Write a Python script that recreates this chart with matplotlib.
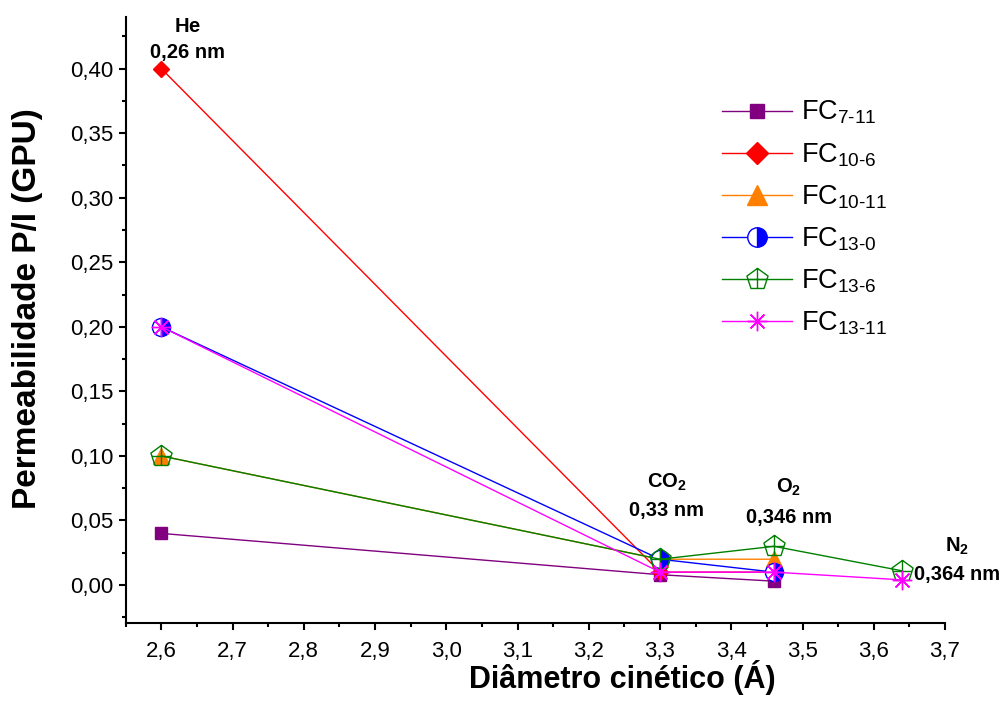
import numpy as np
import matplotlib
matplotlib.use("Agg")
import matplotlib.pyplot as plt
from matplotlib.path import Path
from matplotlib.lines import Line2D
from matplotlib.ticker import MultipleLocator, FuncFormatter

plt.rcParams['font.family'] = ['Liberation Sans', 'DejaVu Sans']
plt.rcParams['mathtext.fontset'] = 'custom'
plt.rcParams['mathtext.rm'] = 'Liberation Sans'
plt.rcParams['mathtext.bf'] = 'Liberation Sans:bold'
plt.rcParams['mathtext.it'] = 'Liberation Sans:italic'

# ---- data ----
labels = [r'FC$_{\text{7-11}}$', r'FC$_{\text{10-6}}$', r'FC$_{\text{10-11}}$',
          r'FC$_{\text{13-0}}$', r'FC$_{\text{13-6}}$', r'FC$_{\text{13-11}}$']
x_fc7_11 = [2.6, 3.3, 3.46]
y_fc7_11 = [0.04, 0.008, 0.003]
x_fc10_6 = [2.6, 3.3, 3.46]
y_fc10_6 = [0.40, 0.01, 0.01]
x_fc10_11 = [2.6, 3.3, 3.46]
y_fc10_11 = [0.10, 0.02, 0.02]
x_fc13_0 = [2.6, 3.3, 3.46]
y_fc13_0 = [0.20, 0.02, 0.01]
x_fc13_6 = [2.6, 3.3, 3.46, 3.64]
y_fc13_6 = [0.10, 0.02, 0.03, 0.011]
x_fc13_11 = [2.6, 3.3, 3.46, 3.64]
y_fc13_11 = [0.20, 0.01, 0.01, 0.004]

gas_names = [r'$\mathbf{He}$', r'$\mathbf{CO}_\mathbf{2}$', r'$\mathbf{O}_\mathbf{2}$', r'$\mathbf{N}_\mathbf{2}$']
gas_sizes = ['0,26 nm', '0,33 nm', '0,346 nm', '0,364 nm']

xs = [x_fc7_11, x_fc10_6, x_fc10_11, x_fc13_0, x_fc13_6, x_fc13_11]
ys = [y_fc7_11, y_fc10_6, y_fc10_11, y_fc13_0, y_fc13_6, y_fc13_11]

# pentagon with cross marker
ang = np.deg2rad([90, 162, 234, 306, 18])
pent = [(np.cos(a), np.sin(a)) for a in ang]
verts = pent + [pent[0], (0, 1), (0, -0.809), (-0.851, 0.0), (0.851, 0.0)]
codes = [Path.MOVETO] + [Path.LINETO] * 4 + [Path.CLOSEPOLY,
         Path.MOVETO, Path.LINETO, Path.MOVETO, Path.LINETO]
pent_cross = Path(verts, codes)

styles = [
    dict(color='#800080', marker='s', mfc='#800080', mec='#800080'),
    dict(color='#FF0000', marker='D', mfc='#FF0000', mec='#FF0000'),
    dict(color='#FF8000', marker='^', mfc='#FF8000', mec='#FF8000'),
    dict(color='#0000FF', marker='o', mfc='#0000FF', mfcalt='white',
         mec='#0000FF', fillstyle='right'),
    dict(color='#008000', marker=pent_cross, mfc='none', mec='#008000'),
    dict(color='#FF00FF', marker=(8, 2, 0), mfc='#FF00FF', mec='#FF00FF'),
]
plot_ms = [8.6, 8.0, 11, 13, 16, 14]
leg_ms = [10, 11, 15, 14, 16, 14]

fig = plt.figure(figsize=(10.01, 7.04), dpi=100)
L, R, B, T = 125.7, 945.0, 623.0, 17.0
ax = fig.add_axes([L / 1001, (704 - B) / 704, (R - L) / 1001, (B - T) / 704])

handles = []
for i, (x, y, st) in enumerate(zip(xs, ys, styles)):
    ax.plot(x, y, lw=1.0, mew=1.0, ms=plot_ms[i], zorder=3 + i,
            clip_on=False, **st)
    handles.append(Line2D([], [], lw=1.0, mew=1.0, ms=leg_ms[i], label=labels[i], **st))

ax.set_xlim(2.55, 3.70)
ax.set_ylim(-0.0294, 0.44)

for s in ['top', 'right']:
    ax.spines[s].set_visible(False)
for s in ['left', 'bottom']:
    ax.spines[s].set_linewidth(1.5)

ax.xaxis.set_major_locator(MultipleLocator(0.1))
ax.xaxis.set_minor_locator(MultipleLocator(0.05))
ax.yaxis.set_major_locator(MultipleLocator(0.05))
ax.yaxis.set_minor_locator(MultipleLocator(0.025))
ax.xaxis.set_major_formatter(FuncFormatter(lambda v, p: f'{v:.1f}'.replace('.', ',')))
ax.yaxis.set_major_formatter(FuncFormatter(lambda v, p: f'{v:.2f}'.replace('.', ',')))
ax.set_yticks(np.arange(0, 0.401, 0.05))
ax.tick_params(axis='both', which='major', direction='out', length=5.2, width=1.5,
               labelsize=16)
ax.tick_params(axis='both', which='minor', direction='out', length=3.2, width=1.5)
ax.tick_params(axis='x', which='major', pad=7.5)
ax.tick_params(axis='y', which='major', pad=3.5)

ax.set_xlabel('Diâmetro cinético (Á)', fontsize=22, fontweight='bold')
ax.xaxis.label.set_va('baseline')
ax.xaxis.set_label_coords((622 - L) / (R - L), (B - 688) / (B - T))
ax.set_ylabel('Permeabilidade P/I (GPU)', fontsize=24, fontweight='bold')
ax.yaxis.label.set_va('baseline')
ax.yaxis.set_label_coords((36 - L) / (R - L), (B - 308.5) / (B - T))

# gas annotations
name_pos = [(2.6365, 0.4282), (3.3097, 0.0751), (3.4808, 0.0712), (3.7164, 0.0258)]
size_pos = [(2.6365, 0.408), (3.3097, 0.0534), (3.4808, 0.048), (3.7164, 0.0039)]
for nm, sz, pn, ps in zip(gas_names, gas_sizes, name_pos, size_pos):
    ax.text(pn[0], pn[1], nm, ha='center', va='baseline', fontsize=14.5,
            fontweight='bold', zorder=20)
    ax.text(ps[0], ps[1], sz, ha='center', va='baseline', fontsize=14.5,
            fontweight='bold', zorder=20)

fs_leg = 19.5
leg = ax.legend(handles=handles, loc='upper left',
                bbox_to_anchor=(722 / 1001, 1 - 99 / 704),
                bbox_transform=fig.transFigure, frameon=False, fontsize=fs_leg,
                borderpad=0, borderaxespad=0, handlelength=2.6,
                handletextpad=0.33, labelspacing=0.54, markerscale=1.0)

fig.savefig('out.png', dpi=100)
